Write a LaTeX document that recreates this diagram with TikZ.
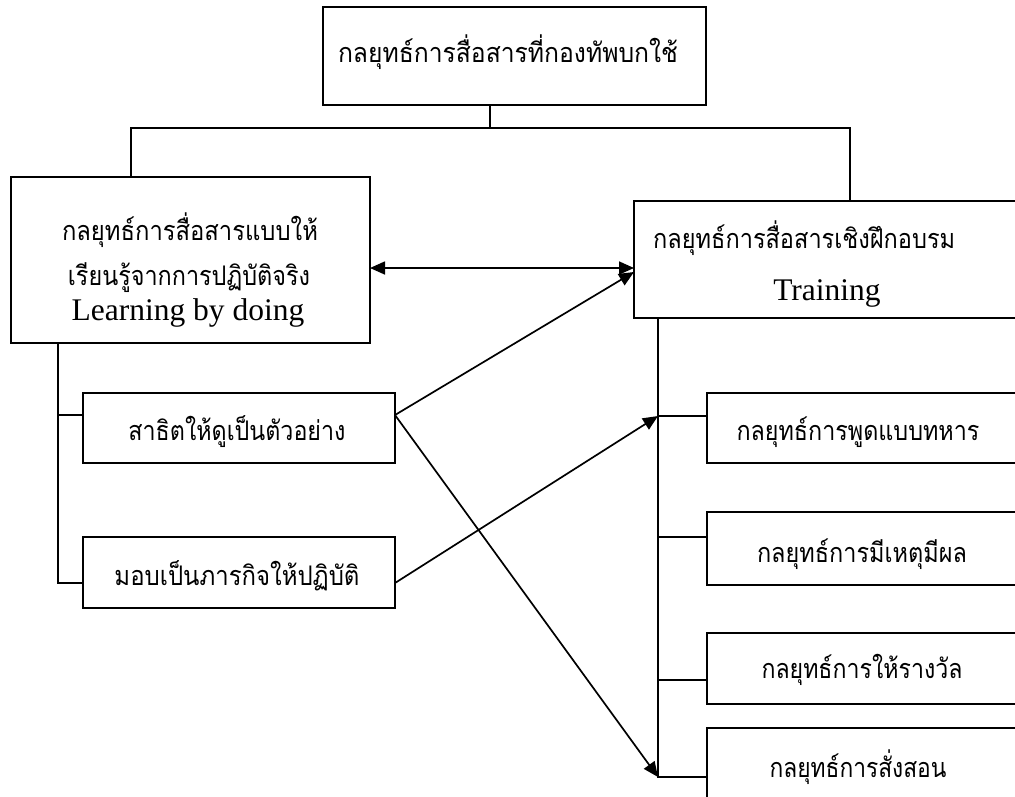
\documentclass[tikz,border=0pt]{standalone}
\usepackage{fontspec}
\setmainfont{Liberation Serif}
\newfontfamily\thai[Script=Thai]{Loma}
\usetikzlibrary{arrows.meta}
\newcommand{\fitw}[2]{\resizebox{#1pt}{\height}{\thai\fontsize{27}{32}\selectfont #2}}
\begin{document}
\begin{tikzpicture}[x=1pt,y=-1pt,
  box/.style={draw, line width=1.9pt, inner sep=0pt, outer sep=0pt},
  ln/.style={line width=1.9pt},
  arr/.style={line width=1.7pt, -{Triangle[length=15pt,width=13pt]}},
  darr/.style={line width=1.7pt, {Triangle[length=15pt,width=13pt]}-{Triangle[length=15pt,width=13pt]}},
  lat/.style={font=\fontsize{31.5}{36}\selectfont, inner sep=0pt},
  th/.style={inner sep=0pt}]
\clip (0,0) rectangle (1015,796);
\fill[white] (0,0) rectangle (1015,796);
% boxes
\node[box, minimum width=383pt, minimum height=98pt] (top) at (514.5,56) {};
\node[box, minimum width=359pt, minimum height=166pt] (lb) at (190.5,260) {};
\node[box, minimum width=411pt, minimum height=117pt] (rb) at (839.5,259.5) {};
\node[box, minimum width=312pt, minimum height=70pt] (demo) at (239,428) {};
\node[box, minimum width=312pt, minimum height=71pt] (assign) at (239,572.5) {};
\node[box, minimum width=338pt, minimum height=70pt] (r1) at (876,428) {};
\node[box, minimum width=338pt, minimum height=73pt] (r2) at (876,548.5) {};
\node[box, minimum width=338pt, minimum height=71pt] (r3) at (876,668.5) {};
\node[box, minimum width=338pt, minimum height=112pt] (r4) at (876,784) {};
% texts
\node[th, anchor=base] (ttop) at (508,62) {\fitw{340}{กลยุทธ์การสื่อสารที่กองทัพบกใช้}};
\node[th, anchor=base] (tl1) at (190,240) {\fitw{256}{กลยุทธ์การสื่อสารแบบให้}};
\node[th, anchor=base] (tl2) at (189,285) {\fitw{242}{เรียนรู้จากการปฏิบัติจริง}};
\node[lat, anchor=base] (tl3) at (188,320) {Learning by doing};
\node[th, anchor=base west] (tr1) at (653,248) {\fitw{302}{กลยุทธ์การสื่อสารเชิงฝึกอบรม}};
\node[lat, anchor=base] (tr2) at (827,300) {Training};
\node[th, anchor=base] (tdemo) at (237,440) {\fitw{217}{สาธิตให้ดูเป็นตัวอย่าง}};
\node[th, anchor=base] (tassign) at (237,585) {\fitw{245}{มอบเป็นภารกิจให้ปฏิบัติ}};
\node[th, anchor=base] (t1) at (858,440) {\fitw{243}{กลยุทธ์การพูดแบบทหาร}};
\node[th, anchor=base] (t2) at (862,562) {\fitw{210}{กลยุทธ์การมีเหตุมีผล}};
\node[th, anchor=base] (t3) at (862,678) {\fitw{201}{กลยุทธ์การให้รางวัล}};
\node[th, anchor=base] (t4) at (858,777) {\fitw{177}{กลยุทธ์การสั่งสอน}};
% junctions
\coordinate (jt) at (490,128);
\coordinate (hl) at (131,128);
\coordinate (hr) at (850,128);
\coordinate (lv1) at (58,415);
\coordinate (lv2) at (58,583);
\coordinate (rv1) at (658,416);
\coordinate (rv2) at (658,537);
\coordinate (rv3) at (658,680);
\coordinate (rv4) at (658,777);
\coordinate (ya) at (0,268);
\coordinate (yb) at (0,272);
% tree lines
\draw[ln] (top.south -| jt) -- (jt);
\draw[ln] (lb.north -| hl) -- (hl) -- (hr) -- (rb.north -| hr);
\draw[ln] (lb.south -| lv1) -- (lv2) -- (assign.west |- lv2);
\draw[ln] (lv1) -- (demo.west |- lv1);
\draw[ln] (rb.south -| rv1) -- (rv4) -- (r4.west |- rv4);
\draw[ln] (rv1) -- (r1.west |- rv1);
\draw[ln] (rv2) -- (r2.west |- rv2);
\draw[ln] (rv3) -- (r3.west |- rv3);
% arrows
\draw[darr] (lb.east |- ya) -- (rb.west |- ya);
\draw[arr] (demo.east |- lv1) -- (rb.west |- yb);
\draw[arr] (demo.east |- lv1) -- (rv4);
\draw[arr] (assign.east |- lv2) -- (rv1);
\end{tikzpicture}
\end{document}
